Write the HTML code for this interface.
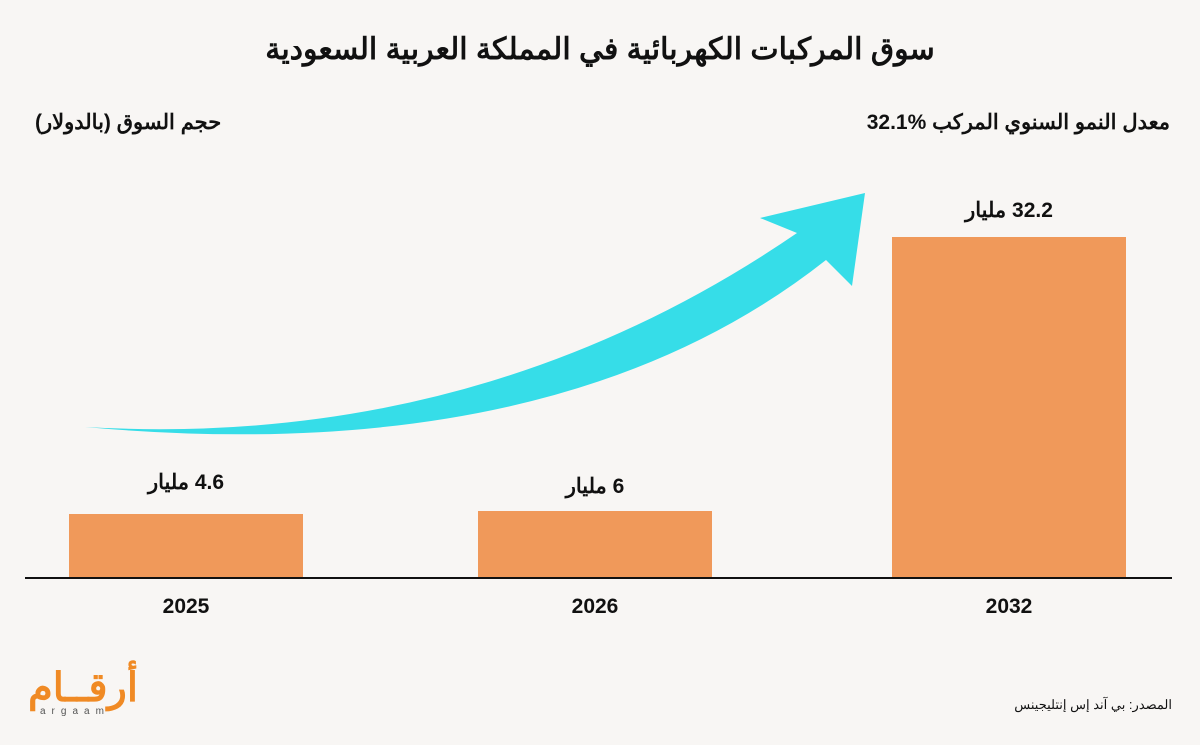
<!DOCTYPE html>
<html><head><meta charset="utf-8"><style>
body{margin:0;width:1200px;height:745px;background:#f8f6f4;overflow:hidden;position:relative;font-family:"Liberation Sans","Noto Sans CJK SC",sans-serif;color:#111}
.t{position:absolute;white-space:nowrap;font-weight:bold}
.bar{position:absolute;background:#f0995a}
</style></head><body>
<div class="t" style="left:0;width:1200px;text-align:center;top:32px;font-size:30px" dir="rtl">سوق المركبات الكهربائية في المملكة العربية السعودية</div>
<div class="t" style="left:35px;top:110px;font-size:21px" dir="rtl">حجم السوق (بالدولار)</div>
<div class="t" style="right:30px;top:110px;font-size:21px" dir="rtl">معدل النمو السنوي المركب <span dir="ltr">32.1%</span></div>
<svg style="position:absolute;left:0;top:0" width="1200" height="745">
<path d="M85,427 Q480,450 797,233 L760,218 L865,193 L852,286 L826,260 Q560,470 85,427 Z" fill="#36dde8"/>
<line x1="25" y1="578" x2="1172" y2="578" stroke="#111" stroke-width="2"/>
</svg>
<div class="bar" style="left:69px;top:514px;width:234px;height:63px"></div>
<div class="bar" style="left:478px;top:511px;width:234px;height:66px"></div>
<div class="bar" style="left:892px;top:237px;width:234px;height:340px"></div>
<div class="t" style="left:69px;width:234px;text-align:center;top:470px;font-size:21px" dir="rtl">4.6 مليار</div>
<div class="t" style="left:478px;width:234px;text-align:center;top:474px;font-size:21px" dir="rtl">6 مليار</div>
<div class="t" style="left:892px;width:234px;text-align:center;top:198px;font-size:21px" dir="rtl">32.2 مليار</div>
<div class="t" style="left:69px;width:234px;text-align:center;top:595px;font-size:21px">2025</div>
<div class="t" style="left:478px;width:234px;text-align:center;top:595px;font-size:21px">2026</div>
<div class="t" style="left:892px;width:234px;text-align:center;top:595px;font-size:21px">2032</div>
<div class="t" style="left:28px;top:668px;font-size:40px;color:#f08a24;line-height:40px" dir="rtl">أرقــام</div>
<div style="position:absolute;left:40px;top:706px;font-size:10px;letter-spacing:6px;color:#555">argaam</div>
<div style="position:absolute;right:28px;top:697px;font-size:13px" dir="rtl">المصدر: بي آند إس إنتليجينس</div>
</body></html>
